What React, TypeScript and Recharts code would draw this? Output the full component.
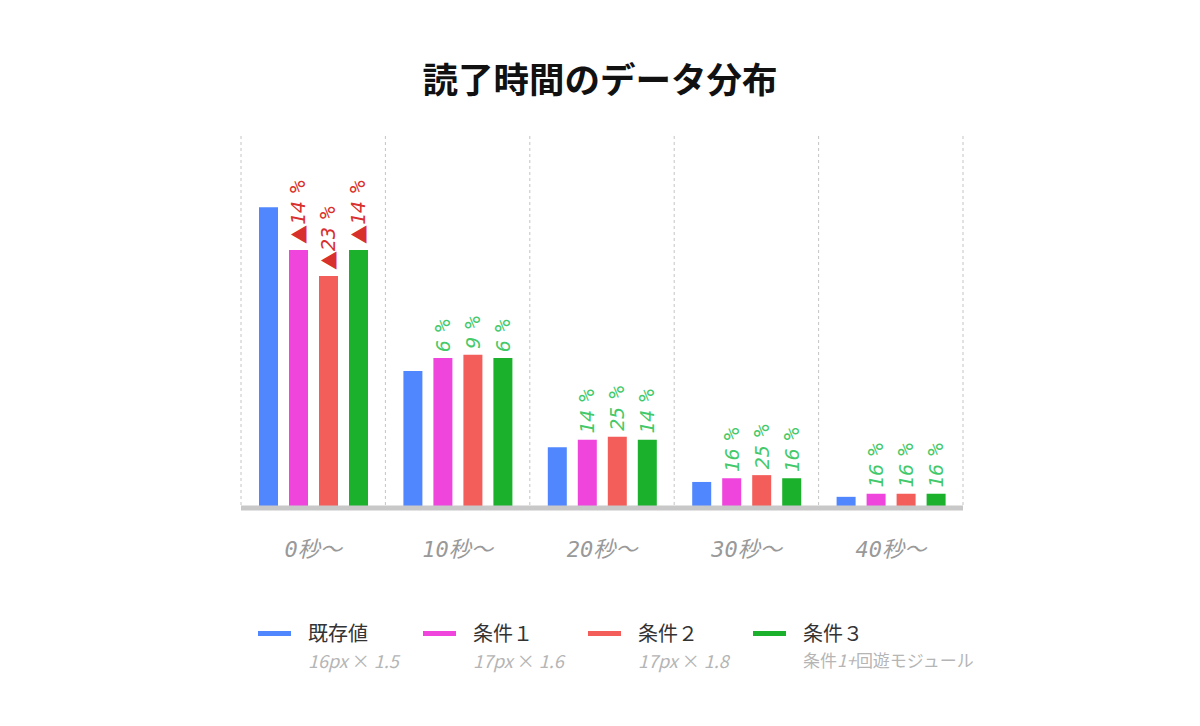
import React from 'react';
import { BarChart, Bar, XAxis, YAxis, CartesianGrid, LabelList } from 'recharts';

const categories = ['0秒〜', '10秒〜', '20秒〜', '30秒〜', '40秒〜'];
const baseShare = [48.5, 22.1, 9.8, 4.2, 1.8];
const cond1Share = [41.6, 24.2, 11.0, 4.8, 2.3];
const cond2Share = [37.4, 24.7, 11.5, 5.3, 2.3];
const cond3Share = [41.6, 24.2, 11.0, 4.8, 2.3];
const cond1Change = [-14, 6, 14, 16, 16];
const cond2Change = [-23, 9, 25, 25, 16];
const cond3Change = [-14, 6, 14, 16, 16];

const series = [
  { key: 'base', name: '既存値', note: '16px × 1.5', color: '#5087fe' },
  { key: 'c1', name: '条件１', note: '17px × 1.6', color: '#ef45dc' },
  { key: 'c2', name: '条件２', note: '17px × 1.8', color: '#f45e5a' },
  { key: 'c3', name: '条件３', note: '条件1+回遊モジュール', color: '#1bb12d' },
];

const data = categories.map((name, i) => ({
  name,
  base: baseShare[i],
  c1: cond1Share[i],
  c2: cond2Share[i],
  c3: cond3Share[i],
  d1: cond1Change[i],
  d2: cond2Change[i],
  d3: cond3Change[i],
}));

const MONO = '"DejaVu Sans Mono", "Noto Sans CJK JP", monospace';
const JP = '"Noto Sans CJK JP", sans-serif';

// dashed lines on the category boundaries, not the centres
const boundaryLines = ({ offset }: any) =>
  Array.from({ length: categories.length + 1 }, (_, i) => offset.left + (i * offset.width) / categories.length);

function ChangeLabel(props: any) {
  const { x, y, width, value } = props;
  if (value == null) return null;
  const cx = Number(x) + Number(width) / 2;
  const ty = Number(y) - 6;
  const down = value < 0;
  return (
    <text
      x={cx}
      y={ty}
      transform={`rotate(-90 ${cx} ${ty})`}
      textAnchor="start"
      dominantBaseline="central"
      fontFamily={MONO}
      fontStyle="italic"
      fontSize={20}
      fill={down ? '#d8302c' : '#44c96a'}
    >
      {down && (
        <tspan fontFamily={JP} fontStyle="normal" fontSize={19}>
          ▲
        </tspan>
      )}
      <tspan>{Math.abs(value)}</tspan>
      <tspan dx={8} fontSize={21}>%</tspan>
    </text>
  );
}

function CategoryTick(props: any) {
  const { x, y, payload } = props;
  return (
    <text
      x={x}
      y={y + 41}
      textAnchor="middle"
      dominantBaseline="central"
      fontFamily={MONO}
      fontStyle="italic"
      fontSize={22}
      fill="#999999"
    >
      {payload.value}
    </text>
  );
}

function Note({ text, size }: { text: string; size: number }) {
  // latin runs slanted, kana/kanji upright
  const parts = text.split(/([\x20-\x7e]+)/).filter(Boolean);
  return (
    <span style={{ fontSize: size }}>
      {parts.map((p, i) => (
        <span key={i} style={{ fontStyle: /^[\x20-\x7e]+$/.test(p) ? 'italic' : 'normal' }}>
          {p}
        </span>
      ))}
    </span>
  );
}

export default function App() {
  return (
    <div style={{ position: 'absolute', left: 0, top: 0, width: 1200, height: 726, background: '#fff' }}>
      <div
        style={{
          position: 'absolute',
          top: 55,
          left: 0,
          width: 1200,
          textAlign: 'center',
          fontFamily: JP,
          fontWeight: 700,
          fontSize: 35.5,
          lineHeight: '46px',
          color: '#111',
        }}
      >
        読了時間のデータ分布
      </div>
      <BarChart
        width={1200}
        height={726}
        data={data}
        margin={{ top: 136, left: 241, right: 237, bottom: 158 }}
        barSize={19}
        barGap={11}
      >
        <CartesianGrid
          horizontal={false}
          verticalCoordinatesGenerator={boundaryLines}
          stroke="#c4c4c4"
          strokeDasharray="3 3"
        />
        <XAxis
          dataKey="name"
          height={60}
          tickSize={0}
          tickMargin={0}
          tickLine={false}
          axisLine={{ stroke: '#c8c8c8', strokeWidth: 5 }}
          tick={<CategoryTick />}
          interval={0}
        />
        <YAxis hide domain={[0, 60]} />
        <Bar dataKey="base" fill={series[0].color} isAnimationActive={false} />
        <Bar dataKey="c1" fill={series[1].color} isAnimationActive={false}>
          <LabelList dataKey="d1" content={<ChangeLabel />} />
        </Bar>
        <Bar dataKey="c2" fill={series[2].color} isAnimationActive={false}>
          <LabelList dataKey="d2" content={<ChangeLabel />} />
        </Bar>
        <Bar dataKey="c3" fill={series[3].color} isAnimationActive={false}>
          <LabelList dataKey="d3" content={<ChangeLabel />} />
        </Bar>
      </BarChart>
      {series.map((s, i) => (
        <div key={s.key} style={{ position: 'absolute', left: 258 + i * 165, top: 618 }}>
          <div style={{ position: 'absolute', left: 0, top: 13, width: 33, height: 5, background: s.color }} />
          <div
            style={{
              position: 'absolute',
              left: 50,
              top: 0,
              whiteSpace: 'nowrap',
              fontFamily: JP,
              fontSize: 20,
              lineHeight: '30px',
              color: '#333',
            }}
          >
            {s.name}
          </div>
          <div
            style={{
              position: 'absolute',
              left: 50,
              top: 30,
              whiteSpace: 'nowrap',
              fontFamily: JP,
              lineHeight: '24px',
              color: '#b5b5b5',
            }}
          >
            <Note text={s.note} size={i === 3 ? 17 : 18} />
          </div>
        </div>
      ))}
    </div>
  );
}
